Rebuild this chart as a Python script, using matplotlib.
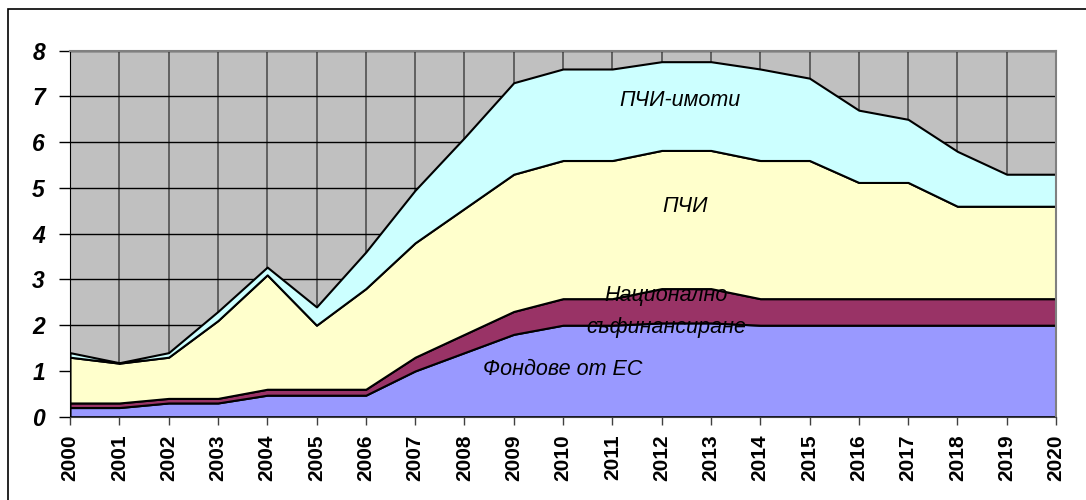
import matplotlib
matplotlib.use('Agg')
import matplotlib.pyplot as plt
from matplotlib.patches import Rectangle
import numpy as np

years = list(range(2000, 2021))

# layer values (stacked, bottom to top)
eu_funds = [0.2, 0.2, 0.3, 0.3, 0.47, 0.47, 0.47, 1.0, 1.4, 1.8, 2.0,
            2.0, 2.05, 2.05, 2.0, 2.0, 2.0, 2.0, 2.0, 2.0, 2.0]
national = [0.1, 0.1, 0.1, 0.1, 0.13, 0.13, 0.13, 0.3, 0.4, 0.5, 0.58,
            0.58, 0.75, 0.75, 0.58, 0.58, 0.58, 0.58, 0.58, 0.58, 0.58]
fdi = [1.0, 0.87, 0.9, 1.7, 2.5, 1.4, 2.2, 2.5, 2.75, 3.0, 3.02,
       3.02, 3.02, 3.02, 3.02, 3.02, 2.54, 2.54, 2.02, 2.02, 2.02]
fdi_property = [0.1, 0.01, 0.1, 0.2, 0.17, 0.4, 0.8, 1.15, 1.55, 2.0, 2.0,
                2.0, 1.94, 1.94, 2.0, 1.8, 1.58, 1.38, 1.2, 0.7, 0.7]

layer_colors = ['#9999FF', '#993366', '#FFFFCC', '#CCFFFF']
labels = [('Фондове от ЕС', 2010.0, 1.04),
          ('Национално', 2012.1, 2.66),
          ('съфинансиране', 2012.1, 1.96),
          ('ПЧИ', 2012.48, 4.59),
          ('ПЧИ-имоти', 2012.37, 6.92)]

plt.rcParams['font.family'] = ['Liberation Sans', 'DejaVu Sans']

fig = plt.figure(figsize=(10.86, 5.0), dpi=100)
fig.patches.append(Rectangle((8 / 1086, -0.1), 1.2, 1 - 9 / 500 + 0.1,
                             transform=fig.transFigure, fill=False,
                             edgecolor='black', linewidth=1.2))
ax = fig.add_axes([70 / 1086, 1 - 416.7 / 500, 986 / 1086, 366 / 500])
ax.set_facecolor('#C0C0C0')

ax.stackplot(years, eu_funds, national, fdi, fdi_property,
             colors=layer_colors, edgecolor='black', linewidth=1.5, zorder=2)

ax.set_xlim(2000, 2020)
ax.set_ylim(0, 8)
ax.set_xticks(years)
ax.set_xticklabels([str(y) for y in years], rotation=90, fontsize=15,
                   fontweight='bold')
ax.set_yticks(range(0, 9))
ax.set_yticklabels([str(v) for v in range(0, 9)], fontsize=16.5,
                   fontweight='bold', fontstyle='italic')
ax.tick_params(axis='y', length=8, width=1, pad=10)
ax.tick_params(axis='x', length=6, width=1, pad=7, color='#404040')

ax.grid(axis='y', color='black', linewidth=1, zorder=1)
ax.grid(axis='x', color='#505050', linewidth=1.2, zorder=1)
ax.set_axisbelow(True)

for side in ['top', 'right']:
    ax.spines[side].set_color('#808080')
    ax.spines[side].set_linewidth(1.5)
ax.spines['left'].set_color('black')
ax.spines['bottom'].set_color('#404040')

for text, x, y in labels:
    ax.text(x, y, text, fontsize=15.5, fontstyle='italic', ha='center',
            va='center', zorder=5)

fig.savefig('out.png', dpi=100)
